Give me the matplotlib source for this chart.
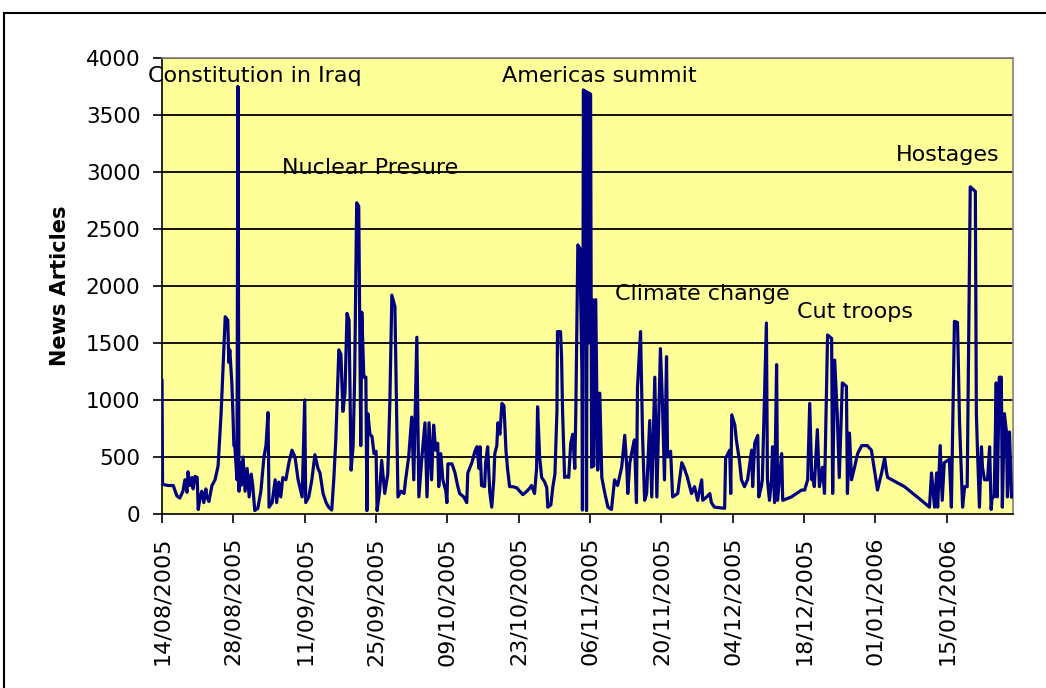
import numpy as np
import pandas as pd
import matplotlib
matplotlib.use("Agg")
from matplotlib import pyplot as plt, dates as mdates, patches

plt.rcParams["font.family"] = ["DejaVu Sans"]

START = pd.Timestamp("2005-08-14")

# days since 14/08/2005 and number of news articles
days = [
    0.0, 0.1, 1.2, 2.2, 2.9, 3.5, 4.1, 4.5, 4.9, 5.1, 5.5, 5.9, 6.1, 6.5, 6.9,
    7.1, 7.5, 7.8, 8.2, 8.6, 8.8, 9.2, 9.8, 10.4, 11.0, 11.6, 12.0, 12.4, 12.9,
    13.1, 13.3, 13.7, 13.9, 14.1, 14.3, 14.7, 14.9, 15.1, 15.3, 15.5, 15.9,
    16.3, 16.7, 17.1, 17.5, 17.8, 18.2, 18.8, 19.4, 20.0, 20.4, 20.8, 21.0,
    21.6, 22.2, 22.5, 22.9, 23.3, 23.7, 24.3, 24.9, 25.5, 26.1, 26.7, 27.5,
    28.0, 28.2, 28.8, 29.4, 30.0, 30.6, 31.0, 31.6, 32.2, 32.7, 33.3,
    33.7, 34.1, 34.7, 35.1, 35.5, 35.9, 36.3, 36.7, 37.1, 37.5, 37.8, 38.2,
    38.6, 39.0, 39.2, 39.6, 40.0, 40.2, 40.4, 40.8, 41.2, 41.6, 42.0, 42.2,
    42.7, 43.1, 43.7, 44.3, 44.7, 45.1, 45.7, 46.3, 46.9, 47.5, 47.8, 48.4,
    49.0, 49.4, 50.0, 50.4, 51.0, 51.6, 52.0, 52.4, 52.9, 53.3, 53.7, 54.1,
    54.3, 54.7,
    55.1, 55.7, 55.9, 56.1, 56.9, 57.5, 58.0, 58.4, 59.2, 59.8, 60.0, 60.8,
    61.4, 61.8, 62.2, 62.4, 62.7, 63.3, 63.5, 63.9, 64.3, 64.7, 65.1, 65.3,
    65.7, 65.9, 66.3, 66.7, 67.1, 67.5, 67.8, 68.2, 68.8, 69.6, 70.2, 70.8,
    71.6, 72.2, 72.5, 73.1, 73.5, 73.7, 74.1, 74.5, 75.1, 75.5, 75.7, 76.3,
    76.7, 77.1, 77.5, 77.6, 78.2, 78.4, 78.6, 79.0, 79.4, 79.8, 80.2, 80.6,
    81.0, 81.2, 81.6,
    82.0, 82.4, 82.5, 82.7, 82.9, 83.1, 83.3, 83.5, 83.7, 83.9, 84.1, 84.3,
    84.5, 84.7, 85.1, 85.5, 85.9, 86.3, 86.9, 87.5, 88.2, 88.8, 89.4, 90.2,
    90.8, 91.2, 91.4, 91.8, 92.4, 92.7, 93.1, 93.3, 93.9, 94.3, 94.7, 95.1,
    95.7, 96.1, 96.7, 97.1, 97.8, 98.2, 98.6, 99.0, 99.2, 99.8, 100.2, 101.2,
    102.0, 102.5, 103.1, 103.9, 104.5, 105.1, 105.9, 106.1, 106.9, 107.5,
    107.8, 108.4, 110.4, 110.6, 111.4, 111.6, 111.8, 112.4, 112.7, 113.3,
    113.7, 114.3, 114.9, 115.7, 115.9, 116.3, 116.9, 117.1, 117.6, 117.8,
    118.2, 118.6, 118.8, 119.2, 119.6, 119.8, 120.2, 120.6, 120.8, 121.6,
    121.8, 123.5, 125.5, 126.1, 126.7, 127.1, 127.5, 127.6, 128.0, 128.6,
    129.0, 129.6, 130.0, 130.6, 131.4, 131.6, 132.0, 132.5, 132.9, 133.5,
    134.3, 134.5, 134.9, 135.3, 135.9, 136.5, 137.3, 138.4, 139.2, 139.8,
    140.4, 141.2, 141.8, 142.2, 142.4, 145.7, 149.0, 150.6, 151.0, 151.6,
    152.0, 152.2, 152.7, 153.1, 153.5, 154.5, 154.9, 155.5, 156.1, 156.5,
    156.9, 157.1, 157.5, 158.0, 158.6, 159.6, 159.8, 160.0, 160.4, 160.8,
    161.0, 161.4, 162.0, 162.4, 162.7, 162.9, 163.3, 163.7, 163.9, 164.3,
    164.7, 164.9, 165.3, 165.7, 165.9, 166.3, 166.7,
]
articles = [
    1170, 260, 250, 250, 160, 140, 200, 300, 190, 370, 250, 320, 220, 330, 320,
    40, 150, 200, 100, 220, 150, 110, 250, 300, 420, 890, 1310, 1730, 1700,
    1330, 1440, 1150, 900, 600, 590, 300, 3750, 200, 450, 250, 500,
    200, 400, 150, 350, 250, 30, 50, 200, 500, 600, 890, 60,
    100, 300, 100, 280, 150, 320, 300, 450, 560, 500, 300, 150,
    1000, 100, 150, 300, 520, 400, 360, 180, 100, 60, 35,
    300, 650, 1440, 1400, 900, 1060, 1760, 1700, 385, 600, 1200, 2730,
    2700, 600, 1770, 1200, 1200, 30, 880, 700, 680, 530, 550, 30,
    200, 470, 180, 350, 970, 1920, 1820, 150, 200, 180, 300, 500,
    850, 300, 1550, 150, 500, 800, 150, 800, 300, 780, 560, 620,
    240, 530,
    300, 200, 100, 440, 440, 360, 250, 180, 150, 100, 360, 450,
    550, 590, 400, 590, 250, 240, 450, 590, 200, 60, 300, 530,
    600, 800, 700, 970, 950, 550, 400, 240, 240, 230, 200, 170,
    200, 230, 250, 180, 400, 940, 500, 320, 280, 230, 60, 80,
    240, 350, 910, 1600, 1600, 1380, 900, 320, 330, 320, 620, 700,
    400, 900, 2360,
    2330, 1240, 35, 3720, 1500, 3710, 30, 3700, 1500, 3690, 3680, 410,
    1880, 420, 1880, 385, 1060, 320, 180, 60, 40, 300, 250, 410,
    690, 410, 180, 450, 590, 650, 100, 1110, 1600, 680, 120, 180,
    820, 150, 1200, 150, 1450, 970, 300, 1380, 500, 550, 150, 180,
    450, 400, 320, 180, 240, 120, 300, 120, 150, 180,
    100, 60, 50, 490, 560, 180, 870, 780, 650, 470,
    300, 240, 300, 560, 240, 620, 690, 150, 240, 300,
    1000, 1675, 300, 120, 300, 590, 100, 1310, 120, 530,
    120, 150, 210, 210, 300, 970, 300, 360, 240, 740,
    240, 410, 180, 1570, 1540, 180, 1350, 880, 320, 1150,
    1120, 180, 710, 300, 410, 530, 600, 600, 560, 385,
    210, 360, 490, 360, 320, 240, 120, 60, 360, 60,
    360, 60, 600, 120, 450, 480, 60, 1690, 1680, 800,
    300, 60, 240, 240, 2870, 2830, 880, 590, 60, 590,
    410, 300, 300, 590, 40, 150, 150, 1150, 150, 1200,
    1200, 60, 880, 720, 150, 720, 150,
]

# event labels placed over the peaks
events = ["Constitution in Iraq", "Nuclear Presure", "Americas summit",
          "Climate change", "Cut troops", "Hostages"]
event_days = [18.2, 40.8, 85.9, 106.0, 136.0, 154.1]
event_levels = [3840, 3035, 3840, 1930, 1770, 3150]

tick_dates = pd.date_range("2005-08-14", periods=12, freq="14D")
y_ticks = list(range(0, 4001, 500))

x = START + pd.to_timedelta(days, unit="D")

fig = plt.figure(figsize=(10.46, 6.88), dpi=100)
fig.patch.set_facecolor("white")
# outer chart frame (right and bottom edges fall outside the picture)
fig.patches.append(patches.Rectangle(
    (0.004, -0.01), 1.1, 0.9815 + 0.01, transform=fig.transFigure,
    fill=False, edgecolor="black", linewidth=1.5))

ax = fig.add_axes([0.1549, 0.2529, 0.9685 - 0.1549, 0.9157 - 0.2529])
ax.set_facecolor("#FFFF99")

for v in y_ticks[1:]:
    ax.axhline(v, color="black", linewidth=1.3, zorder=1)

ax.plot(x, articles, color="#000080", linewidth=2.3, zorder=3)

for label, d, lev in zip(events, event_days, event_levels):
    ax.text(START + pd.Timedelta(days=d), lev, label, ha="center",
            va="center", fontsize=16, color="black", zorder=4, clip_on=False)

ax.set_xlim(START, START + pd.Timedelta(days=167))
ax.set_ylim(0, 4000)
ax.set_yticks(y_ticks)
ax.set_yticklabels([str(v) for v in y_ticks], fontsize=15.5)
ax.set_xticks(tick_dates)
ax.xaxis.set_major_formatter(mdates.DateFormatter("%d/%m/%Y"))
plt.setp(ax.get_xticklabels(), rotation=90, fontsize=16)
ax.tick_params(direction="out", length=6.5, width=1.2, color="black")
ax.tick_params(axis="y", pad=9)
ax.tick_params(axis="x", pad=10)

for side in ["top", "right"]:
    ax.spines[side].set_color("#808080")
    ax.spines[side].set_linewidth(1.2)
for side in ["left", "bottom"]:
    ax.spines[side].set_color("black")
    ax.spines[side].set_linewidth(1.2)

ax.set_ylabel("News Articles", fontsize=15, fontweight="bold")
ax.yaxis.set_label_coords(-0.108, 0.5)

fig.savefig("out.png", dpi=100)
plt.close(fig)
